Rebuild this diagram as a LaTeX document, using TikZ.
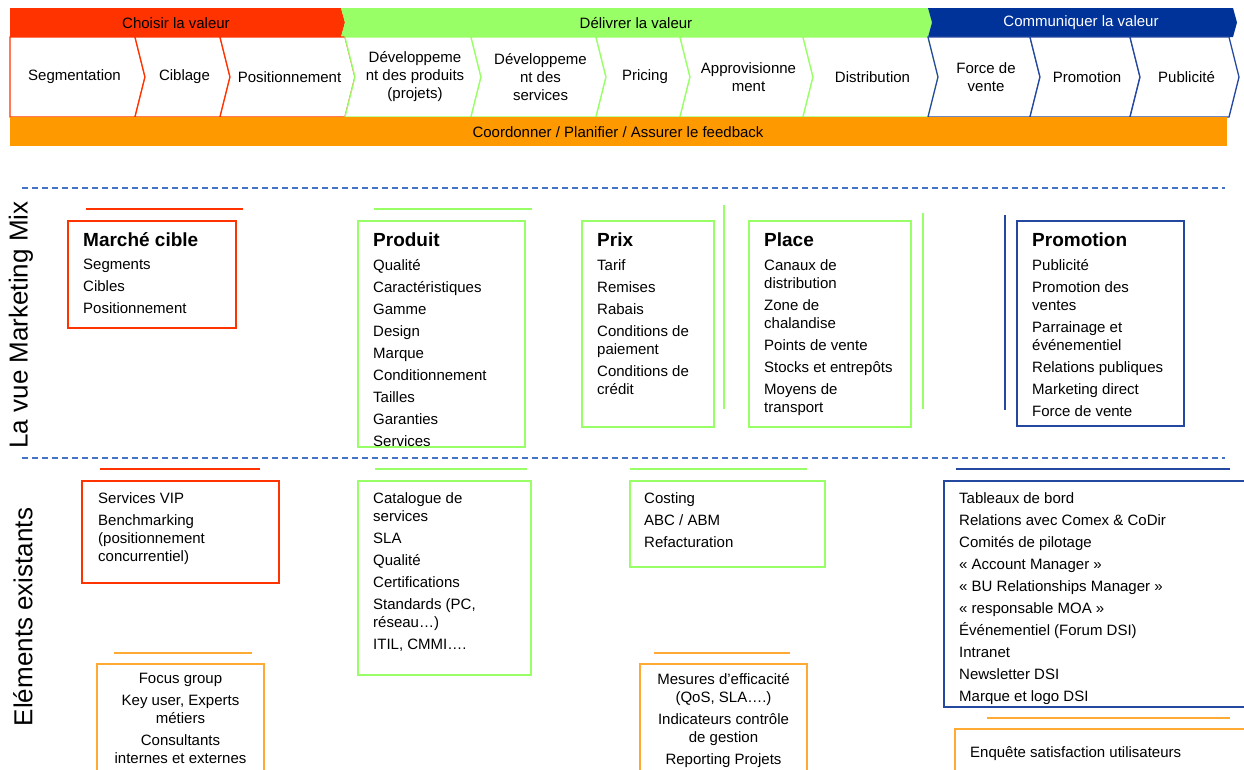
\documentclass[tikz,border=0pt]{standalone}
\usepackage{fontspec}
\setmainfont{Liberation Sans}
\definecolor{valred}{HTML}{FF3300}
\definecolor{valgreen}{HTML}{99FF66}
\definecolor{valblue}{HTML}{003399}
\definecolor{boxblue}{HTML}{2448A0}
\definecolor{valorange}{HTML}{FF9900}
\definecolor{ruleorange}{HTML}{FFAA33}
\definecolor{sepblue}{HTML}{4472C4}
\newcommand{\bodyfont}{\fontsize{15}{18}\selectfont}
\newcommand{\boxtitle}{\fontsize{19}{22}\selectfont\bfseries}

\begin{document}
\begin{tikzpicture}[x=1pt, y=-1pt,
  chev/.style={fill=white, line width=1.3pt, line join=miter},
  chevtxt/.style={align=center, inner sep=0pt, font=\bodyfont},
  bandtxt/.style={inner sep=0pt, font=\bodyfont},
  sepline/.style={dash pattern=on 6pt off 4pt, line width=1.3pt, sepblue},
  hrule/.style={line width=1.8pt},
  boxline/.style={line width=1.5pt},
  itemtxt/.style={anchor=north west, align=left, inner sep=0pt, font=\bodyfont},
  citemtxt/.style={anchor=north, align=center, inner sep=0pt, font=\bodyfont},
  sidelbl/.style={rotate=90, inner sep=0pt, font=\fontsize{26}{30}\selectfont}]
  \useasboundingbox (0,0) rectangle (1244,769);
  \clip (0,0) rectangle (1244,769);

  % Bands
  \fill[valred] (10,8) -- (341,8) -- (345,22.5) -- (341,37) -- (10,37) -- cycle;
  \fill[valgreen] (341,8) -- (928,8) -- (932,22.5) -- (928,37) -- (341,37) -- (345,22.5) -- cycle;
  \fill[valblue] (928,8) -- (1233,8) -- (1237,22.5) -- (1233,37) -- (928,37) -- (932,22.5) -- cycle;
  \node[bandtxt] (choisir) at (176,23) {Choisir la valeur};
  \node[bandtxt] (delivrer) at (636,23) {Délivrer la valeur};
  \node[bandtxt, text=white] (communiquer) at (1081,23) {Communiquer la valeur};

  % Chevrons
  \foreach \xa/\xb/\nt/\col/\txt [count=\i] in {
      10/135/0/valred/{Segmentation},
      135/220/10/valred/{Ciblage},
      220/345/10/valred/{Positionnement},
      345/471/10/valgreen/{Développeme\\nt des produits\\(projets)},
      471/596/10/valgreen/{Développeme\\nt des\\services},
      596/680/10/valgreen/{Pricing},
      680/803/10/valgreen/{Approvisionne\\ment},
      803/928/10/valgreen/{Distribution},
      928/1030/10/boxblue/{Force de\\vente},
      1030/1130/10/boxblue/{Promotion},
      1130/1229/10/boxblue/{Publicité}}{
    \draw[chev, draw=\col] (\xa,37) -- (\xb,37) -- (\xb+10,77) -- (\xb,117)
      -- (\xa,117) -- (\xa+\nt,77) -- cycle;
    \node[chevtxt] (chev\i) at ({(\xa+\nt+\xb)/2+2},77) {\txt};
  }

  % Feedback bar
  \fill[valorange] (10,117) rectangle (1227,146);
  \node[bandtxt] (feedback) at (618,132) {Coordonner / Planifier / Assurer le feedback};

  % Separators and side labels
  \draw[sepline] (22,188) -- (1225,188);
  \draw[sepline] (22,458) -- (1225,458);
  \node[sidelbl] (mixlbl) at (21,325) {La vue Marketing Mix};
  \node[sidelbl] (existlbl) at (23,617) {Eléments existants};

  % Marketing mix
  \draw[hrule, valred] (86,209) -- (243,209);
  \draw[boxline, valred] (68,221) rectangle (236,328);
  \node[itemtxt] (marche) at (83,232) {{\boxtitle Marché cible}\\[5.5pt]
    Segments\\[4pt] Cibles\\[4pt] Positionnement};

  \draw[hrule, valgreen] (374,209) -- (532,209);
  \draw[boxline, valgreen] (358,221) rectangle (525,447);
  \node[itemtxt] (produit) at (373,233) {{\boxtitle Produit}\\[5.5pt]
    Qualité\\[4pt] Caractéristiques\\[4pt] Gamme\\[4pt] Design\\[4pt] Marque\\[4pt]
    Conditionnement\\[4pt] Tailles\\[4pt] Garanties\\[4pt] Services};

  \draw[boxline, valgreen] (582,221) rectangle (714,427);
  \draw[hrule, valgreen] (724,205) -- (724,409);
  \node[itemtxt] (prix) at (597,233) {{\boxtitle Prix}\\[5.5pt]
    Tarif\\[4pt] Remises\\[4pt] Rabais\\[4pt] Conditions de\\paiement\\[4pt]
    Conditions de\\crédit};

  \draw[boxline, valgreen] (749,221) rectangle (911,427);
  \draw[hrule, valgreen] (923,213) -- (923,409);
  \node[itemtxt] (place) at (764,233) {{\boxtitle Place}\\[5.5pt]
    Canaux de\\distribution\\[4pt] Zone de\\chalandise\\[4pt] Points de vente\\[4pt]
    Stocks et entrepôts\\[4pt] Moyens de\\transport};

  \draw[hrule, boxblue] (1005,215) -- (1005,410);
  \draw[boxline, boxblue] (1017,221) rectangle (1184,426);
  \node[itemtxt] (promotion) at (1032,233) {{\boxtitle Promotion}\\[5.5pt]
    Publicité\\[4pt] Promotion des\\ventes\\[4pt] Parrainage et\\événementiel\\[4pt]
    Relations publiques\\[4pt] Marketing direct\\[4pt] Force de vente};

  % Existing elements
  \draw[hrule, valred] (100,469) -- (260,469);
  \draw[boxline, valred] (82,481) rectangle (279,583);
  \node[itemtxt] (vip) at (98,492) {Services VIP\\[4pt] Benchmarking\\(positionnement\\concurrentiel)};

  \draw[hrule, valgreen] (375,469) -- (527,469);
  \draw[boxline, valgreen] (358,481) rectangle (531,675);
  \node[itemtxt] (catalogue) at (373,492) {Catalogue de\\services\\[4pt] SLA\\[4pt] Qualité\\[4pt]
    Certifications\\[4pt] Standards (PC,\\réseau…)\\[4pt] ITIL, CMMI….};

  \draw[hrule, valgreen] (630,469) -- (807,469);
  \draw[boxline, valgreen] (630,481) rectangle (825,567);
  \node[itemtxt] (costing) at (644,492) {Costing\\[4pt] ABC / ABM\\[4pt] Refacturation};

  \draw[hrule, boxblue] (956,469) -- (1230,469);
  \draw[boxline, boxblue] (944,481) rectangle (1260,707);
  \node[itemtxt] (tableaux) at (959,492) {Tableaux de bord\\[4pt] Relations avec Comex \& CoDir\\[4pt]
    Comités de pilotage\\[4pt] « Account Manager »\\[4pt] « BU Relationships Manager »\\[4pt]
    « responsable MOA »\\[4pt] Événementiel (Forum DSI)\\[4pt] Intranet\\[4pt]
    Newsletter DSI\\[4pt] Marque et logo DSI};

  \draw[hrule, ruleorange] (114,653) -- (252,653);
  \draw[boxline, ruleorange] (97,664) rectangle (264,780);
  \node[citemtxt] (focus) at (180.5,673) {Focus group\\[4pt] Key user, Experts\\métiers\\[4pt]
    Consultants\\internes et externes};

  \draw[hrule, ruleorange] (654,653) -- (790,653);
  \draw[boxline, ruleorange] (640,664) rectangle (807,780);
  \node[citemtxt] (mesures) at (723.5,673) {Mesures d’efficacité\\(QoS, SLA….)\\[4pt]
    Indicateurs contrôle\\de gestion\\[4pt] Reporting Projets};

  \draw[hrule, ruleorange] (987,718) -- (1230,718);
  \draw[boxline, ruleorange] (955,729) rectangle (1260,780);
  \node[itemtxt] (enquete) at (970,746) {Enquête satisfaction utilisateurs};
\end{tikzpicture}
\end{document}
